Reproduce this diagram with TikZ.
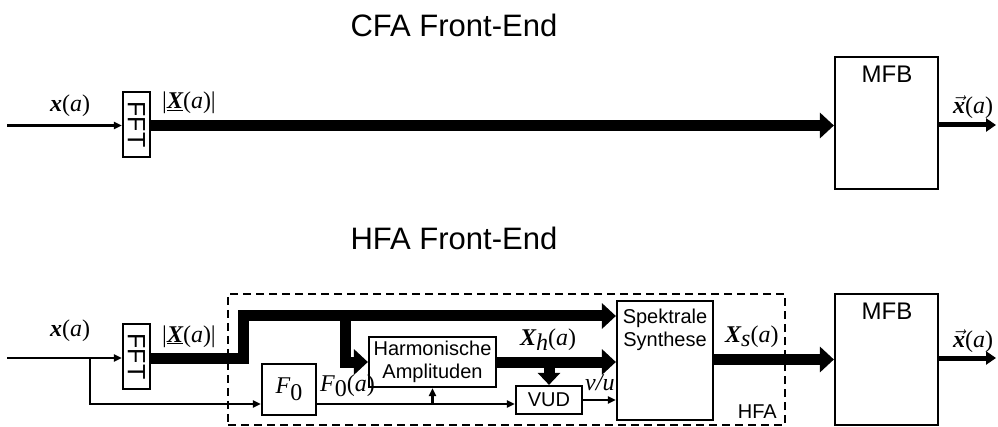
\documentclass[tikz,border=0pt]{standalone}
\usepackage{fontspec}
\setmainfont{Liberation Sans}
\newfontfamily\timesfont{Liberation Serif}
\usetikzlibrary{arrows.meta,positioning,calc}

% signal names (Times-like italic / bold italic)
\newcommand{\sigb}[1]{{\timesfont\bfseries\itshape #1}}
\newcommand{\sigi}[1]{{\timesfont\itshape #1}}
\newcommand{\ofa}{{\timesfont(\itshape a\/\upshape)}}

\begin{document}
\begin{tikzpicture}[
  x=1pt, y=-1pt,
  blk/.style={draw, line width=2.2pt, inner sep=0pt},
  fat/.style={line width=11pt, -{Triangle[length=14pt,width=25pt]}},
  mid/.style={line width=5pt, -{Triangle[length=10pt,width=13pt]}},
  thin/.style={line width=2.4pt, -{Triangle[length=8pt,width=7pt]}},
  title/.style={anchor=base west, font=\fontsize{31}{36}\selectfont},
  sig/.style={anchor=base west, font=\fontsize{24}{28}\selectfont, inner sep=0pt},
  boxtxt/.style={font=\fontsize{20}{23}\selectfont, align=center, inner sep=0pt}
]
  \useasboundingbox (0,0) rectangle (998,427);

  % ---------- CFA Front-End ----------
  \node[title] (cfa) at (347,37) {CFA Front-End};

  \coordinate (in1) at (7,125.5);
  \node[blk, minimum width=27, minimum height=65] (fft1) at (136.5,124.5) {};
  \node[rotate=-90, font=\fontsize{25}{30}\selectfont, inner sep=0pt] (fft1txt) at (fft1) {FFT};
  \node[blk, minimum width=103, minimum height=132] (mfb1) at (886.5,123) {};
  \node[anchor=base, font=\fontsize{24}{28}\selectfont] (mfb1txt) at (887,83) {MFB};
  \coordinate (out1) at (996,125);

  \draw[thin] (in1) -- (in1 -| fft1.west);
  \draw[fat] (fft1.east |- in1) -- (mfb1.west |- in1);
  \draw[mid] (mfb1.east |- out1) -- (out1);

  \node[sig] (x1) at (50,112) {\sigb{x}\ofa};
  \node[sig] (X1) at (162,109) {{\timesfont|}\underline{\sigb{X}}\ofa{\timesfont|}};
  \node[sig] (xv1) at (953,114) {$\vec{\hbox{\sigb{x}}}$\ofa};

  % ---------- HFA Front-End ----------
  \node[title] (hfatitle) at (347,250) {HFA Front-End};

  \node[draw, line width=2.2pt, dash pattern=on 8pt off 5pt, minimum width=557, minimum height=131, inner sep=0pt] (hfa) at (506.5,359.5) {};
  \node[boxtxt, anchor=base east] (hfatxt) at (777,418) {HFA};

  \coordinate (in2) at (7,358);
  \coordinate (br0) at (90,358);
  \coordinate (fz) at (0,404);
  \coordinate (up) at (243,316);
  \coordinate (br1) at (345,316);
  \node[blk, minimum width=27, minimum height=65] (fft2) at (136.5,356.5) {};
  \node[rotate=-90, font=\fontsize{25}{30}\selectfont, inner sep=0pt] (fft2txt) at (fft2) {FFT};
  \node[blk, minimum width=54, minimum height=51] (f0) at (289,389.5) {\fontsize{24}{28}\selectfont\sigi{F}\raisebox{-7pt}{\timesfont 0}};
  \node[blk, boxtxt, minimum width=127, minimum height=50] (harm) at (432.5,362) {Harmonische\\Amplituden};
  \node[blk, boxtxt, minimum width=66, minimum height=28] (vud) at (549,400) {VUD};
  \node[blk, minimum width=96, minimum height=119] (synth) at (665,360.5) {};
  \node[boxtxt, anchor=base] (synthtxt) at (665,347) {Spektrale\\Synthese};
  \node[blk, minimum width=103, minimum height=131] (mfb2) at (886.5,359.5) {};
  \node[anchor=base, font=\fontsize{24}{28}\selectfont] (mfb2txt) at (887,320) {MFB};
  \coordinate (out2) at (996,358);

  % signal flow
  \draw[thin] (in2) -- (in2 -| fft2.west);
  \draw[thin] (br0) |- (f0.west |- fz);
  \draw[fat] (fft2.east |- in2) -- (up |- in2) -- (up) -- (up -| synth.west);
  \draw[fat] (br1) |- (harm.west);
  \draw[fat] (harm.east) -- (harm.east -| synth.west);
  \draw[fat, -{Triangle[length=12pt,width=22pt]}] (vud.north |- harm.east) -- (vud.north);
  \draw[thin] (f0.east |- fz) -- (vud.west |- fz);
  \draw[thin] (harm.south |- fz) -- (harm.south);
  \draw[thin] (vud.east) -- (vud.east -| synth.west);
  \draw[fat] (mfb2.west -| synth.east) -- (mfb2.west);
  \draw[mid] (mfb2.east |- out2) -- (out2);

  % labels
  \node[sig] (x2) at (50,337) {\sigb{x}\ofa};
  \node[sig] (X2) at (162,342) {{\timesfont|}\underline{\sigb{X}}\ofa{\timesfont|}};
  \node[sig] (F0a) at (320,391) {\sigi{F}\raisebox{-5pt}{\timesfont 0}\ofa};
  \node[sig] (Xh) at (520,345) {\sigb{X}\raisebox{-5pt}{\sigi{h}}\ofa};
  \node[sig] (vu) at (585,390) {\sigi{v/u}};
  \node[sig] (Xs) at (725,342) {\sigb{X}\raisebox{-5pt}{\sigi{s}}\ofa};
  \node[sig] (xv2) at (953,348) {$\vec{\hbox{\sigb{x}}}$\ofa};
\end{tikzpicture}
\end{document}
